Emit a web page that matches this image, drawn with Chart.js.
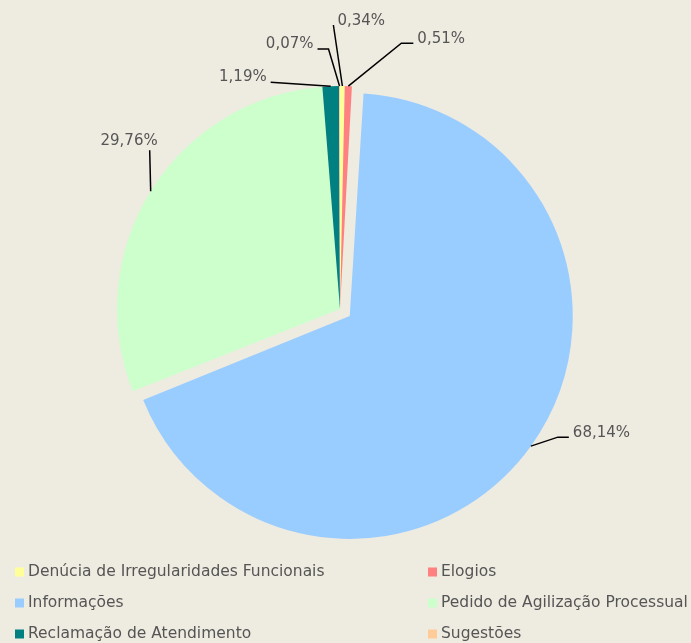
<!DOCTYPE html>
<html>
<head>
<meta charset="utf-8">
<script src="https://cdn.jsdelivr.net/npm/chart.js@4/dist/chart.umd.min.js"></script>
<style>
  html, body { margin: 0; padding: 0; background: #eeebe0; }
  canvas { display: block; }
</style>
</head>
<body>
<canvas id="js-pieChart" width="691" height="643"></canvas>
<script>
// data
var categories = [
    'Denúcia de Irregularidades Funcionais',
    'Elogios',
    'Informações',
    'Pedido de Agilização Processual',
    'Reclamação de Atendimento',
    'Sugestões'
];
var percentages = [0.34, 0.51, 68.14, 29.76, 1.19, 0.07];
var sliceColors = ['#ffff99', '#ff8080', '#99ccff', '#ccffcc', '#008080', '#ffcc99'];

var textColor = '#555555';
var fontFamily = '"DejaVu Sans", Verdana, sans-serif';

// leader line end relative to slice edge: [dx, dy, knee]
var leaderLines = [
    [-9, -61, 0],
    [65, -43, 12],
    [38, -9, 11],
    [-1, -41, 0],
    [-60, -4, 0],
    [-22, -37, 11]
];

function fmt(v) {
    return v.toFixed(2).replace('.', ',') + '%';
}

function radiusGrow(arc) {
    var circ = arc.endAngle - arc.startAngle;
    return (arc.options.offset || 0) / 4 * (1 - Math.sin(Math.min(Math.PI, circ)));
}

// exploded slice: move only, keep radius
var keepRadius = {
    id: 'keepRadius',
    afterDatasetUpdate: function(chart, args) {
        args.meta.data.forEach(function(arc) {
            arc.outerRadius = arc.outerRadius - radiusGrow(arc);
        });
    }
};

// labels with leader lines
var pieLabels = {
    id: 'pieLabels',
    afterDatasetsDraw: function(chart) {
        var ctx = chart.ctx;
        var arcs = chart.getDatasetMeta(0).data;
        ctx.save();
        ctx.font = '15px ' + fontFamily;
        ctx.lineWidth = 1.5;
        ctx.strokeStyle = '#000';
        arcs.forEach(function(arc, i) {
            var mid = (arc.startAngle + arc.endAngle) / 2;
            var rr = (arc.options.offset || 0) / 4 + arc.outerRadius + radiusGrow(arc);
            var ex = arc.x + Math.cos(mid) * rr;
            var ey = arc.y + Math.sin(mid) * rr;
            var l = leaderLines[i];
            var tx = ex + l[0], ty = ey + l[1];
            var right = l[0] > 0 || (i === 0);
            var kx = tx + (right ? -l[2] : l[2]);
            ctx.beginPath();
            ctx.moveTo(ex, ey);
            ctx.lineTo(kx, ty);
            ctx.lineTo(tx, ty);
            ctx.stroke();

            ctx.fillStyle = textColor;
            ctx.textBaseline = 'middle';
            var txt = fmt(percentages[i]);
            if (i === 3) {
                ctx.textAlign = 'right';
                ctx.fillText(txt, tx + 8, ty - 9);
            } else if (right) {
                ctx.textAlign = 'left';
                ctx.fillText(txt, tx + 4, ty - 4);
            } else {
                ctx.textAlign = 'right';
                ctx.fillText(txt, tx - 4, ty - 5);
            }
        });
        ctx.restore();
    }
};

// legend in two columns
var columnLegend = {
    id: 'columnLegend',
    afterDraw: function(chart) {
        var ctx = chart.ctx;
        ctx.save();
        ctx.font = '15.5px ' + fontFamily;
        ctx.textBaseline = 'middle';
        ctx.textAlign = 'left';
        chart.data.labels.forEach(function(label, i) {
            var x = [15, 428][i % 2];
            var y = 572 + 31 * Math.floor(i / 2);
            ctx.fillStyle = chart.data.datasets[0].backgroundColor[i];
            ctx.fillRect(x, y - 4.5, 9, 9);
            ctx.fillStyle = textColor;
            ctx.fillText(label, x + 13, y);
        });
        ctx.restore();
    }
};

var ctx = document.getElementById('js-pieChart').getContext('2d');
var myChart = new Chart(ctx, {
    type: 'pie',
    data: {
        labels: categories,
        datasets: [{
            data: percentages,
            backgroundColor: sliceColors,
            borderWidth: 0,
            offset: [0, 0, 48, 0, 0, 0],
            hoverOffset: 0,
            radius: 223
        }]
    },
    options: {
        responsive: false,
        animation: false,
        layout: { padding: { left: 0, right: 11, top: 0, bottom: 25 } },
        plugins: {
            legend: { display: false },
            tooltip: { enabled: false }
        }
    },
    plugins: [keepRadius, pieLabels, columnLegend]
});
</script>
</body>
</html>
